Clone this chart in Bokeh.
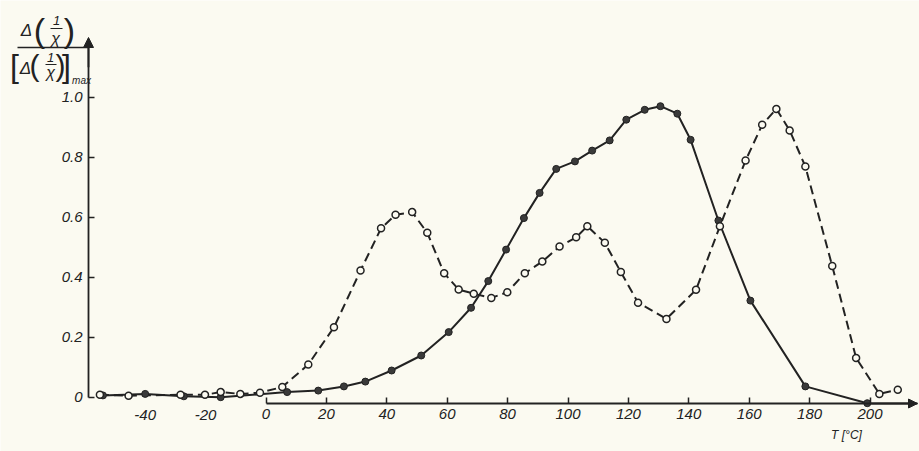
from bokeh.plotting import figure
from bokeh.models import Range1d, FixedTicker, Label, Arrow, NormalHead
from bokeh.embed import file_html
from bokeh.resources import INLINE

# ---- data ----
temp_open = [-55, -45.5, -28.3, -20.2, -15, -8.5, -2, 5.4, 14, 22.5, 31.3, 38.1,
             42.9, 48.4, 53.4, 59, 63.8, 68.8, 74.6, 79.9, 85.7, 91.5, 97.2, 102.7,
             106.4, 112.2, 117.5, 123.2, 132.6, 142.4, 150.3, 158.8, 164.3, 169,
             173.4, 178.6, 187.5, 195.4, 203.1, 209.2]
ratio_open = [0.008, 0.005, 0.008, 0.008, 0.017, 0.011, 0.015, 0.034, 0.109, 0.233,
              0.422, 0.563, 0.608, 0.617, 0.548, 0.413, 0.359, 0.345, 0.331, 0.35,
              0.413, 0.452, 0.502, 0.533, 0.57, 0.515, 0.417, 0.315, 0.261, 0.358,
              0.57, 0.789, 0.908, 0.961, 0.889, 0.769, 0.437, 0.131, 0.011, 0.025]

temp_filled = [-54, -40, -27.2, -15, 7, 17.3, 25.8, 32.9, 41.6, 51.4, 60.5, 67.9,
               73.6, 79.5, 85.4, 90.6, 96.1, 102.3, 108, 113.8, 119.3, 125.4, 130.6,
               136.2, 140.6, 149.8, 160.4, 178.6, 199.1]
ratio_filled = [0.006, 0.011, 0.003, 0.0, 0.017, 0.022, 0.036, 0.052, 0.089, 0.139,
                0.217, 0.298, 0.387, 0.492, 0.597, 0.681, 0.761, 0.786, 0.822, 0.856,
                0.925, 0.958, 0.97, 0.945, 0.858, 0.589, 0.322, 0.036, -0.02]

x_ticks = [0, 20, 40, 60, 80, 100, 120, 140, 160, 180, 200]
x_extra_ticks = [-40, -20]
y_ticks = [0, 0.2, 0.4, 0.6, 0.8, 1.0]
y_tick_text = ["0", "0.2", "0.4", "0.6", "0.8", "1.0"]
x_title = "T [°C]"

# ---- geometry / style ----
W, H = 919, 451
# pixel mapping of the reference: sx = X0PX + XS*T ; sy = Y0PX - YS*v
X0PX, XS = 265.5, 3.02
Y0PX, YS = 396.7, 300.0
XMIN, XMAX = (0 - X0PX) / XS, (W - X0PX) / XS
YMIN, YMAX = (Y0PX - H) / YS, (Y0PX - 0) / YS
X_AXIS_T = (88 - X0PX) / XS          # where the vertical axis stands
Y_AXIS_V = (Y0PX - 403) / YS         # where the horizontal axis stands
X_ARROW_T = (917 - X0PX) / XS
Y_ARROW_V = (Y0PX - 37) / YS
INK = "#222222"
BG = "#fbfaf1"
FONT = "Liberation Sans"

def dx(sx):
    return (sx - X0PX) / XS

def dy(sy):
    return (Y0PX - sy) / YS

p = figure(width=W, height=H, output_backend="svg", toolbar_location=None,
           x_range=Range1d(XMIN, XMAX), y_range=Range1d(YMIN, YMAX),
           min_border_left=0, min_border_right=0,
           min_border_top=0, min_border_bottom=0,
           background_fill_color=BG, border_fill_color=BG)
p.outline_line_color = None
p.grid.visible = False

# axes (standing inside the frame at fixed locations)
xa = p.xaxis[0]
xa.fixed_location = Y_AXIS_V
xa.ticker = FixedTicker(ticks=x_ticks)
xa.bounds = (0, X_ARROW_T)
ya = p.yaxis[0]
ya.fixed_location = X_AXIS_T
ya.ticker = FixedTicker(ticks=y_ticks)
ya.major_label_overrides = {t: s for t, s in zip(y_ticks, y_tick_text)}
ya.bounds = (0, Y_ARROW_V - 0.02)
for ax in (xa, ya):
    ax.axis_line_color = INK
    ax.axis_line_width = 1.8
    ax.major_tick_line_color = INK
    ax.major_tick_line_width = 1.5
    ax.major_tick_in = 6
    ax.major_tick_out = 0
    ax.minor_tick_line_color = None
    ax.major_label_text_font = FONT
    ax.major_label_text_font_style = "italic"
    ax.major_label_text_font_size = "15px"
    ax.major_label_text_color = INK
xa.major_label_standoff = 5
ya.major_label_standoff = 6

for t in x_extra_ticks:
    p.add_layout(Label(x=t, y=dy(409), text=str(t), text_align="center",
                       text_baseline="top", text_font=FONT, text_font_style="italic",
                       text_font_size="15px", text_color=INK))

p.add_layout(Label(x=dx(846), y=dy(434), text=x_title, text_align="center",
                   text_baseline="middle", text_font=FONT, text_font_style="italic",
                   text_font_size="12px", text_color=INK))

# axis arrows
p.add_layout(Arrow(x_start=X_AXIS_T, y_start=1.10, x_end=X_AXIS_T, y_end=Y_ARROW_V,
                   line_color=INK, line_width=1.8,
                   end=NormalHead(size=10, fill_color=INK, line_color=INK)))
p.add_layout(Arrow(x_start=200, y_start=Y_AXIS_V, x_end=X_ARROW_T, y_end=Y_AXIS_V,
                   line_color=INK, line_width=1.8,
                   end=NormalHead(size=9, fill_color=INK, line_color=INK)))

# y-axis title as a built fraction
def lab(sx, sy, txt, size, style="italic"):
    p.add_layout(Label(x=dx(sx), y=dy(sy), text=txt, text_align="center",
                       text_baseline="middle", text_font=FONT,
                       text_font_style=style, text_font_size=size,
                       text_color=INK))

def bar(sx0, sx1, sy, w=1.5):
    p.add_layout(Arrow(x_start=dx(sx0), y_start=dy(sy), x_end=dx(sx1), y_end=dy(sy),
                       start=None, end=None, line_color=INK, line_width=w))

# numerator
lab(26, 30, "Δ", "17px")
lab(39, 29, "(", "34px", "normal")
lab(56, 20, "1", "13px")
bar(50, 62, 28, 1.2)
lab(55, 38, "χ", "16px")
lab(69, 29, ")", "34px", "normal")
bar(17, 88, 47, 1.6)
# denominator
lab(14, 65, "[", "32px", "normal")
lab(25, 68, "Δ", "17px")
lab(34, 65, "(", "30px", "normal")
lab(50, 57, "1", "13px")
bar(45, 56, 64, 1.2)
lab(50, 72, "χ", "16px")
lab(60, 65, ")", "30px", "normal")
lab(66, 65, "]", "32px", "normal")
lab(81, 80, "max", "10px")

# data
p.line(temp_filled, ratio_filled, line_color=INK, line_width=2)
p.line(temp_open, ratio_open, line_color=INK, line_width=2, line_dash="9 5")
p.scatter(temp_filled, ratio_filled, marker="circle", size=7,
          fill_color="#3a3a3a", line_color=INK, line_width=1)
p.scatter(temp_open, ratio_open, marker="circle", size=7,
          fill_color=BG, line_color=INK, line_width=1.5)

open("out.html", "w").write(file_html(p, INLINE))
